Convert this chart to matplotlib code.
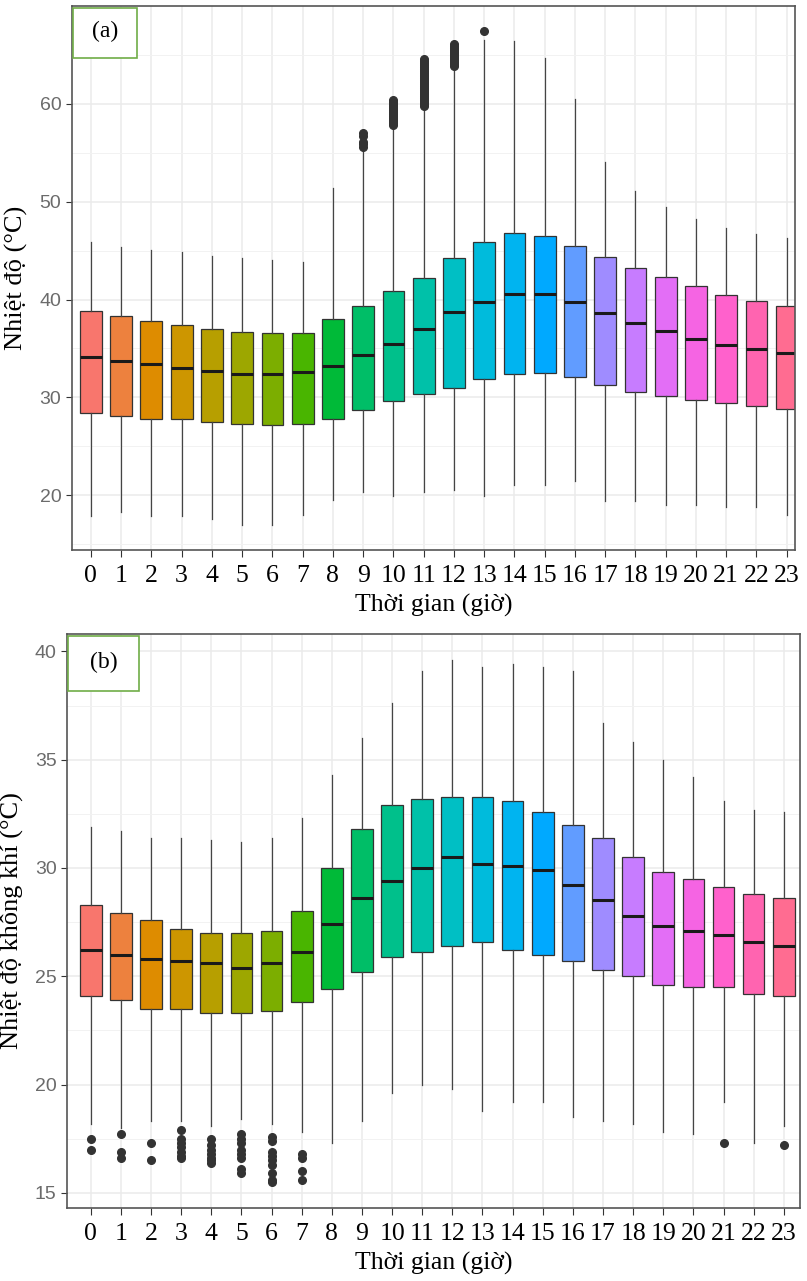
import numpy as np
import matplotlib.pyplot as plt
from matplotlib.patches import Rectangle

# ---- data ----
hours = list(range(24))

# panel (a): Nhiet do (temperature)
a_hi = [45.9, 45.4, 45.1, 44.9, 44.5, 44.2, 44.0, 43.8, 51.4, 55.2, 57.7, 59.7,
        63.8, 66.5, 66.4, 64.7, 60.5, 54.1, 51.1, 49.5, 48.2, 47.3, 46.7, 46.3]
a_q3 = [38.8, 38.3, 37.8, 37.4, 37.0, 36.7, 36.6, 36.6, 38.0, 39.3, 40.9, 42.2,
        44.2, 45.9, 46.8, 46.5, 45.5, 44.3, 43.2, 42.3, 41.4, 40.5, 39.9, 39.3]
a_med = [34.1, 33.7, 33.4, 33.0, 32.7, 32.4, 32.4, 32.6, 33.2, 34.3, 35.5, 37.0,
         38.7, 39.8, 40.6, 40.6, 39.8, 38.6, 37.6, 36.8, 36.0, 35.4, 34.9, 34.5]
a_q1 = [28.4, 28.1, 27.8, 27.8, 27.5, 27.3, 27.2, 27.3, 27.8, 28.7, 29.6, 30.4,
        31.0, 31.9, 32.4, 32.5, 32.1, 31.3, 30.6, 30.1, 29.7, 29.4, 29.1, 28.8]
a_lo = [17.9, 18.3, 17.9, 17.9, 17.6, 17.0, 17.0, 18.0, 19.5, 20.3, 19.9, 20.3,
        20.5, 19.9, 21.1, 21.1, 21.5, 19.4, 19.4, 19.0, 19.0, 18.8, 18.8, 18.0]
a_out = {9: [55.6, 55.9, 56.1, 56.7, 57.0],
         10: [57.8, 58.0, 58.2, 58.4, 58.6, 58.8, 59.0, 59.2, 59.4, 59.6,
              59.8, 60.0, 60.2, 60.4],
         11: [59.8, 60.0, 60.2, 60.4, 60.6, 60.8, 61.0, 61.2, 61.4, 61.6,
              61.8, 62.0, 62.2, 62.4, 62.6, 62.8, 63.0, 63.2, 63.4, 63.6,
              63.8, 64.0, 64.2, 64.4, 64.6],
         12: [63.9, 64.1, 64.3, 64.5, 64.7, 64.9, 65.1, 65.3, 65.5, 65.7,
              65.9, 66.1],
         13: [67.4]}

# panel (b): Nhiet do khong khi (air temperature)
b_hi = [31.9, 31.7, 31.4, 31.4, 31.3, 31.2, 31.4, 32.3, 34.3, 36.0, 37.6, 39.1,
        39.6, 39.3, 39.4, 39.3, 39.1, 36.7, 35.8, 35.0, 34.2, 33.1, 32.7, 32.6]
b_q3 = [28.3, 27.9, 27.6, 27.2, 27.0, 27.0, 27.1, 28.0, 30.0, 31.8, 32.9, 33.2,
        33.3, 33.3, 33.1, 32.6, 32.0, 31.4, 30.5, 29.8, 29.5, 29.1, 28.8, 28.6]
b_med = [26.2, 26.0, 25.8, 25.7, 25.6, 25.4, 25.6, 26.1, 27.4, 28.6, 29.4, 30.0,
         30.5, 30.2, 30.1, 29.9, 29.2, 28.5, 27.8, 27.3, 27.1, 26.9, 26.6, 26.4]
b_q1 = [24.1, 23.9, 23.5, 23.5, 23.3, 23.3, 23.4, 23.8, 24.4, 25.2, 25.9, 26.1,
        26.4, 26.6, 26.2, 26.0, 25.7, 25.3, 25.0, 24.6, 24.5, 24.5, 24.2, 24.1]
b_lo = [18.2, 18.0, 18.3, 18.3, 18.1, 18.4, 18.2, 17.8, 17.3, 18.3, 19.6, 20.0,
        19.8, 18.8, 19.2, 19.2, 18.5, 18.3, 18.2, 17.8, 17.7, 19.2, 17.3, 18.1]
b_out = {0: [17.5, 17.0],
         1: [17.7, 16.9, 16.6],
         2: [17.3, 16.5],
         3: [17.9, 17.5, 17.3, 17.1, 16.9, 16.7, 16.6],
         4: [17.5, 17.2, 17.0, 16.8, 16.6, 16.5, 16.4],
         5: [17.7, 17.5, 17.3, 17.0, 16.8, 16.6, 16.1, 15.9],
         6: [17.6, 17.4, 16.9, 16.7, 16.5, 16.3, 15.9, 15.6, 15.5],
         7: [16.8, 16.6, 16.0, 15.6],
         21: [17.3],
         23: [17.2]}


def hcl_hex(h, c=100, l=65):
    # polar LUV -> sRGB, like R's hcl()
    Xn, Yn, Zn = 95.047, 100.0, 108.883
    u = c * np.cos(np.radians(h))
    v = c * np.sin(np.radians(h))
    Y = Yn * ((l + 16) / 116) ** 3
    un = 4 * Xn / (Xn + 15 * Yn + 3 * Zn)
    vn = 9 * Yn / (Xn + 15 * Yn + 3 * Zn)
    up = u / (13 * l) + un
    vp = v / (13 * l) + vn
    X = 9 * Y * up / (4 * vp)
    Z = Y * (12 - 3 * up - 20 * vp) / (4 * vp)
    X, Y, Z = X / 100, Y / 100, Z / 100
    r = 3.2404542 * X - 1.5371385 * Y - 0.4985314 * Z
    g = -0.9692660 * X + 1.8760108 * Y + 0.0415560 * Z
    b = 0.0556434 * X - 0.2040259 * Y + 1.0572252 * Z
    out = []
    for ch in (r, g, b):
        ch = 12.92 * ch if ch <= 0.0031308 else 1.055 * ch ** (1 / 2.4) - 0.055
        out.append(min(max(ch, 0), 1))
    return tuple(out)


colors = [hcl_hex(15 + 15 * i) for i in range(24)]

plt.rcParams['font.family'] = ['Liberation Serif', 'DejaVu Serif']

fig = plt.figure(figsize=(8.07, 12.81), dpi=100)


def panel(ax, lo, q1, med, q3, hi, out, ylim, ymaj, ymin, xlim, ylabel, tag, tagsize):
    stats = []
    for i in range(len(hours)):
        stats.append(dict(whislo=lo[i], q1=q1[i], med=med[i], q3=q3[i],
                          whishi=hi[i], fliers=out.get(hours[i], [])))
    bp = ax.bxp(stats, positions=hours, widths=0.72, patch_artist=True,
                showcaps=False, manage_ticks=False,
                boxprops=dict(edgecolor='#333333', linewidth=0.9),
                whiskerprops=dict(color='#444444', linewidth=0.9),
                medianprops=dict(color='#1a1a1a', linewidth=2.2),
                flierprops=dict(marker='o', markerfacecolor='#333333',
                                markeredgecolor='#333333', markersize=5.5))
    for patch, col in zip(bp['boxes'], colors):
        patch.set_facecolor(col)
    ax.set_xlim(*xlim)
    ax.set_ylim(*ylim)
    ax.set_xticks(hours)
    ax.set_xticklabels([str(h) for h in hours], fontsize=18.5)
    ax.set_yticks(ymaj)
    ax.set_yticks(ymin, minor=True)
    ax.tick_params(axis='y', which='minor', length=0)
    ax.tick_params(axis='y', which='major', length=4, color='#333333')
    ax.tick_params(axis='x', length=5, color='#333333', pad=6)
    for t in ax.get_yticklabels():
        t.set_family('Liberation Sans')
        t.set_fontsize(14)
        t.set_color('#6b6b6b')
    ax.grid(True, which='major', color='#ebebeb', linewidth=1.1)
    ax.grid(True, which='minor', axis='y', color='#f2f2f2', linewidth=0.7)
    ax.set_axisbelow(True)
    for s in ax.spines.values():
        s.set_color('#555555')
        s.set_linewidth(1.2)
    ax.set_xlabel('Thời gian (giờ)', fontsize=18.5, labelpad=5)
    ax.set_ylabel(ylabel, fontsize=19, labelpad=8)
    ax.add_patch(Rectangle((0.002, tagsize[1]), tagsize[0], 1 - tagsize[1] - 0.003,
                           transform=ax.transAxes, facecolor='white',
                           edgecolor='#70ad47', linewidth=1.2, zorder=5))
    ax.text(0.002 + tagsize[0] / 2, (1 + tagsize[1]) / 2, tag,
            transform=ax.transAxes, ha='center', va='center',
            fontsize=17, zorder=6)


ax1 = fig.add_axes([0.089, 0.5706, 0.896, 0.4247])
panel(ax1, a_lo, a_q1, a_med, a_q3, a_hi, a_out,
      (14.4, 70.0), [20, 30, 40, 50, 60], [15, 25, 35, 45, 55, 65],
      (-0.63, 23.27), 'Nhiệt độ (°C)', '(a)', (0.088, 0.905))

ax2 = fig.add_axes([0.083, 0.057, 0.908, 0.448])
panel(ax2, b_lo, b_q1, b_med, b_q3, b_hi, b_out,
      (14.3, 40.8), [15, 20, 25, 30, 35, 40], [17.5, 22.5, 27.5, 32.5, 37.5],
      (-0.79, 23.53), 'Nhiệt độ không khí (°C)', '(b)', (0.096, 0.9))

fig.savefig('out.png', dpi=100)
